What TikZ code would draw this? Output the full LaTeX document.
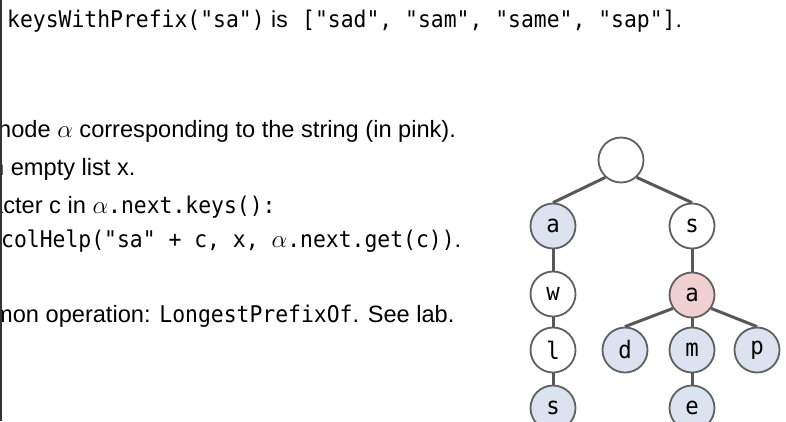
\documentclass[tikz,border=0pt]{standalone}
\usepackage{fontspec}
\setmainfont{Liberation Sans}
\setmonofont[FakeStretch=0.93]{DejaVu Sans Mono}
\definecolor{nodeblue}{HTML}{DAE3EF}
\definecolor{nodepink}{HTML}{F0D0D0}
\definecolor{edgegray}{HTML}{585858}
\definecolor{ringgray}{HTML}{606060}
\newcommand{\cd}[1]{{\fontsize{23}{23}\selectfont\ttfamily #1}}
\tikzset{
  trienode/.style={circle, draw=ringgray, line width=1.8pt, minimum size=45pt, inner sep=0pt,
    font=\ttfamily\fontsize{24}{24}\selectfont},
  bluenode/.style={trienode, fill=nodeblue},
  pinknode/.style={trienode, fill=nodepink},
  whitenode/.style={trienode, fill=white},
  trieedge/.style={draw=edgegray, line width=3pt},
  body/.style={anchor=base west, inner sep=0pt, font=\fontsize{23.6}{24}\selectfont},
}
\begin{document}
\begin{tikzpicture}[x=1pt,y=-1pt]
\useasboundingbox (0,0) rectangle (786,421);
\fill[white] (0,0) rectangle (786,421);
\begin{scope}
\clip (0,0) rectangle (786,421);
% text
\node[body, font=\fontsize{23}{23}\selectfont] (t1) at (7,27)
  {\cd{keysWithPrefix("sa")} is\hspace{8pt} \cd{["sad", "sam", "same", "sap"]}.};
\node[body] (l1) at (-2,137) {node $\alpha$ corresponding to the string (in pink).};
\node[body] (l2) at (-9,175) {n empty list x.};
\node[body] (l3) at (-10,213) {acter c in $\alpha$\cd{.next.keys():}};
\node[body] (l4) at (1,247) {\cd{colHelp("sa" + c, x, }$\alpha$\cd{.next.get(c))}.};
\node[body] (l5) at (-7,322) {mon operation: \cd{LongestPrefixOf}. See lab.};
% tree
\node[whitenode] (root) at (621,160) {};
\node[bluenode]  (a1) at (553,226) {a};
\node[whitenode] (s1) at (692,226) {s};
\node[whitenode] (w)  at (553,294) {w};
\node[whitenode] (l)  at (553,350) {l};
\node[bluenode]  (s2) at (553,408) {s};
\node[pinknode]  (a2) at (692,295) {a};
\node[bluenode]  (d)  at (625,350) {d};
\node[bluenode]  (m)  at (692,350) {m};
\node[bluenode]  (p)  at (757,350) {p};
\node[bluenode]  (e)  at (692,408) {e};
\draw[trieedge] (root.228) -- (a1.north);
\draw[trieedge] (root.312) -- (s1.north);
\draw[trieedge] (a1) -- (w);
\draw[trieedge] (w) -- (l);
\draw[trieedge] (l) -- (s2);
\draw[trieedge] (s1) -- (a2);
\draw[trieedge] (a2.215) -- (d.north);
\draw[trieedge] (a2) -- (m);
\draw[trieedge] (a2.325) -- (p.north);
\draw[trieedge] (m) -- (e);
\end{scope}
\fill[black!80] (0,0) rectangle (2,421);
\end{tikzpicture}
\end{document}
